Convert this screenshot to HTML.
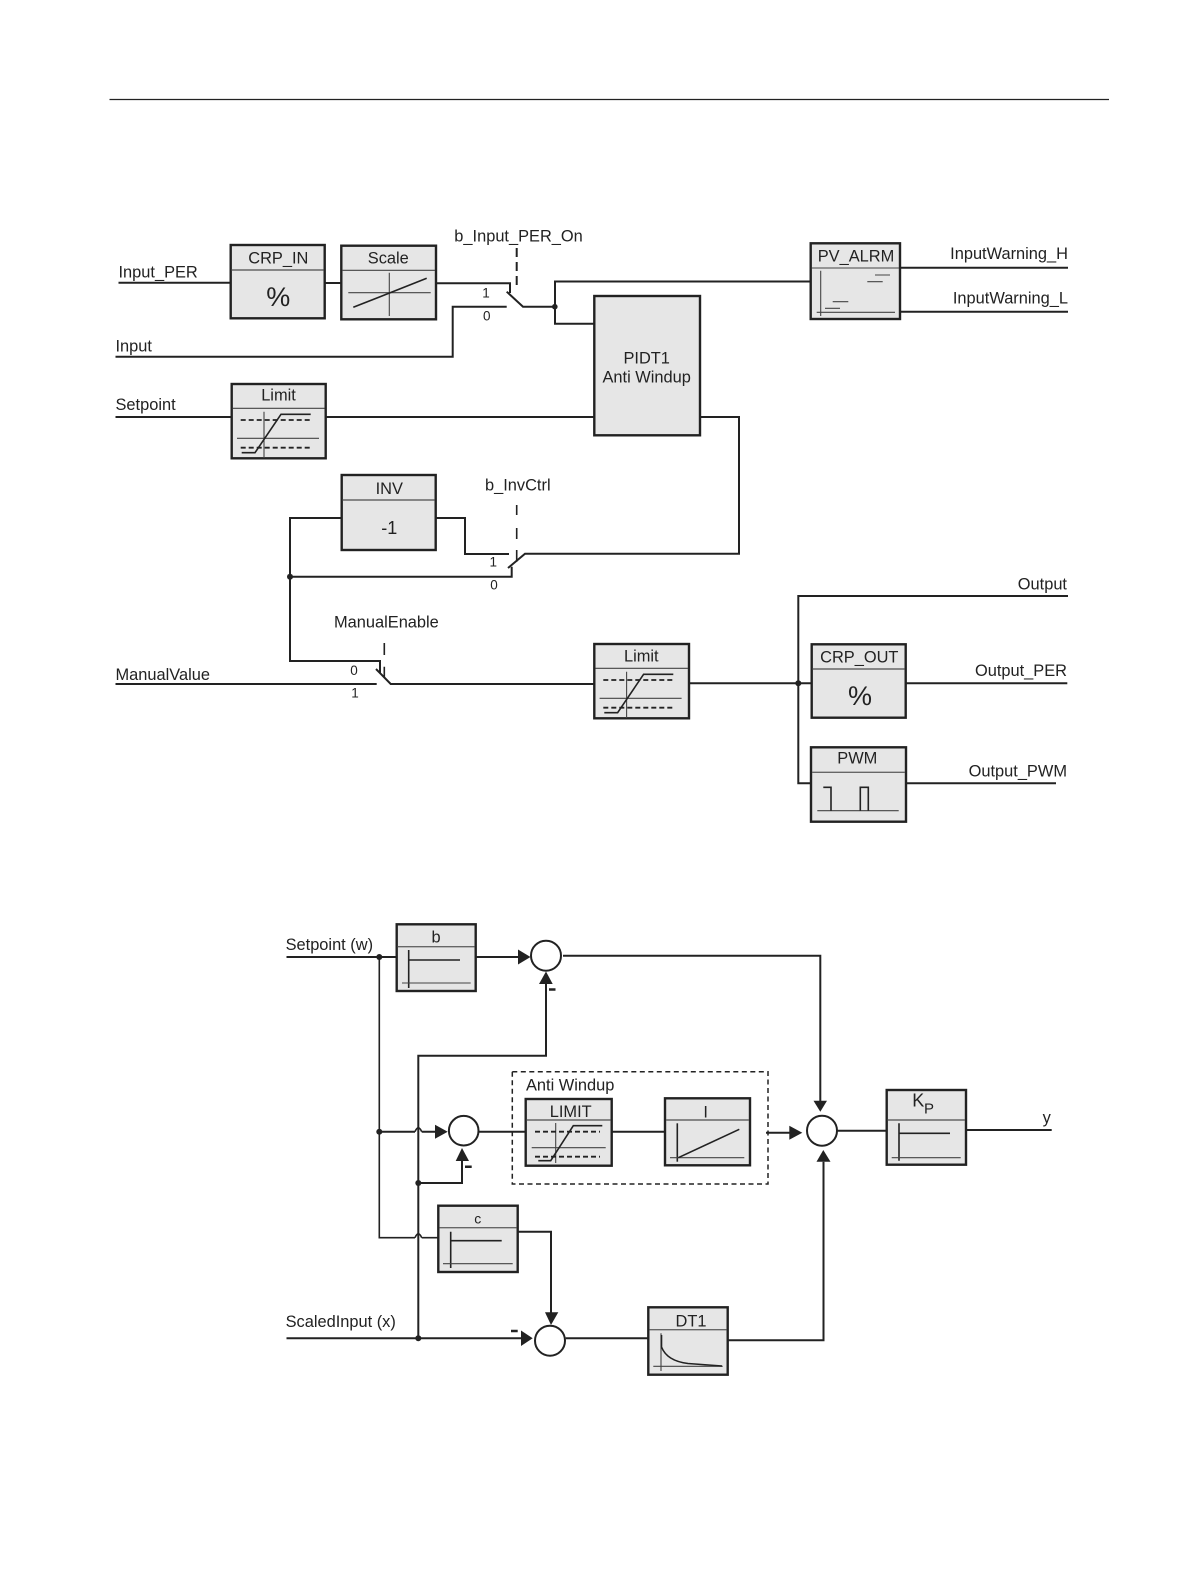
<!DOCTYPE html>
<html><head><meta charset="utf-8"><style>
html,body{margin:0;padding:0;background:#fff}
svg{display:block}
text{font-family:"Liberation Sans",sans-serif;fill:#222;font-size:16.4px}
.b{fill:#e6e6e6;stroke:#222;stroke-width:2.4}
.h{stroke:#666;stroke-width:1.4;fill:none}
.l{stroke:#222;stroke-width:2;fill:none}
.t{stroke:#444;stroke-width:1.1;fill:none}
.m{stroke:#222;stroke-width:1.6;fill:none}
.d{stroke:#222;stroke-width:1.8;fill:none;stroke-dasharray:5 3}
.c{fill:#fff;stroke:#222;stroke-width:2}
.a{fill:#222;stroke:none}
.s{font-size:13.5px;text-anchor:middle}
.mid{text-anchor:middle}
.end{text-anchor:end}
.p{font-size:27px;text-anchor:middle}
</style></head><body>
<svg width="1191" height="1587" viewBox="0 0 1191 1587" xmlns="http://www.w3.org/2000/svg">
<path d="M109.500 99.500H1109" stroke="#222" stroke-width="1.2"/>

<!-- top wires -->
<path class="l" d="M118.500 282.700H230.700M324.700 283H341.300M436 283.300H510V293M506.700 291.700L523 306.700H555V281.500H810.700M555 306.700V323.700H594.300"/>
<path class="l" d="M506.700 306.700H452.700V356.700H115.500"/>
<circle cx="554.800" cy="306.700" r="2.800" class="a"/>
<path class="l" d="M516.700 248V290" stroke-dasharray="9 5"/>
<path class="l" d="M115.500 417H231.700M325.700 417H594.300M700 417H739V553.700H525L508 568"/>
<path class="l" d="M341.700 518H290V661H380V673M435.700 518H465V554H509M290 576.700H511.700V566.700"/>
<path class="l" d="M115.500 684H376.700M376 669L390.700 684H594.300M689 683.300H811.700"/>
<path class="l" d="M1068 596H798.300V783.300H811M905.700 683.300H1067.300M906 783.300H1056M900 267.700H1068M900 311.700H1068"/>
<circle cx="290" cy="576.700" r="3" class="a"/>
<circle cx="798.300" cy="683.300" r="3" class="a"/>
<path class="m" d="M516.700 505V515M516.700 528V539M516.700 550V561.700M384.300 643V655M384.300 666.700V678"/>

<!-- CRP_IN -->
<rect class="b" x="230.700" y="245" width="94" height="73.300"/>
<path class="h" d="M231.700 270H323.700"/>
<text x="278.300" y="263.300" class="mid">CRP_IN</text>
<text x="278.300" y="306" class="p">%</text>
<!-- Scale -->
<rect class="b" x="341.300" y="245.700" width="94.700" height="73.600"/>
<path class="t" d="M342 270.300H435"/>
<text x="388.300" y="263.300" class="mid">Scale</text>
<path class="t" d="M348.300 292.700H430.700M389.300 272.700V316"/><path class="m" d="M353.300 307.300L426.700 278.300"/>
<text x="486" y="297.300" class="s">1</text>
<text x="486.700" y="320.700" class="s">0</text>
<text x="454.300" y="241.500">b_Input_PER_On</text>
<text x="118.500" y="277.500">Input_PER</text>
<text x="115.500" y="351.500">Input</text>
<text x="115.500" y="410">Setpoint</text>

<!-- Limit 1 -->
<rect class="b" x="231.700" y="384" width="94" height="74.300"/>
<path class="t" d="M232.700 408.300H324.700"/>
<text x="278.500" y="400.700" class="mid">Limit</text>
<g id="lim">
<path class="t" d="M237 438.300H319M264 411.700V458"/>
<path class="m" d="M241.700 452.700H255L281 414.300H310.700"/>
<path class="d" d="M240.700 420H312.700M240.700 447.700H312.700"/>
</g>

<!-- PIDT1 -->
<rect class="b" x="594.300" y="296" width="105.700" height="139.300"/>
<text x="646.700" y="363.300" class="mid">PIDT1</text>
<text x="646.700" y="382.700" class="mid">Anti Windup</text>

<!-- PV_ALRM -->
<rect class="b" x="810.700" y="243.300" width="89.300" height="75.700"/>
<path class="t" d="M811.700 268H899"/>
<text x="856" y="261.700" class="mid">PV_ALRM</text>
<path class="t" d="M820.700 270.700V316M816.700 312.300H895"/>
<path class="t" d="M875 275H890M867.300 281.700H882.700M832.700 301.700H848.300M825 308.300H840"/>
<text x="1068" y="259" class="end">InputWarning_H</text>
<text x="1068" y="303.300" class="end">InputWarning_L</text>

<!-- INV -->
<rect class="b" x="341.700" y="475" width="94" height="75"/>
<path class="h" d="M342.700 500H434.700"/>
<text x="389.300" y="494" class="mid">INV</text>
<text x="389.300" y="534" class="mid" style="font-size:18px">-1</text>
<text x="485" y="490.700">b_InvCtrl</text>
<text x="493.300" y="566.700" class="s">1</text>
<text x="494" y="589.300" class="s">0</text>
<text x="334" y="627.700">ManualEnable</text>
<text x="354" y="675" class="s">0</text>
<text x="355" y="697.300" class="s">1</text>
<text x="115.500" y="680">ManualValue</text>

<!-- Limit 2 -->
<rect class="b" x="594.300" y="644" width="94.700" height="74.300"/>
<path class="t" d="M595.300 668.300H688"/>
<text x="641.300" y="661.700" class="mid">Limit</text>
<g transform="translate(362.600,260)">
<path class="t" d="M237 438.300H319M264 411.700V458"/>
<path class="m" d="M241.700 452.700H255L281 414.300H310.700"/>
<path class="d" d="M240.700 420H312.700M240.700 447.700H312.700"/>
</g>

<!-- outputs -->
<text x="1067" y="589.400" class="end">Output</text>
<rect class="b" x="811.700" y="644.300" width="94" height="73.400"/>
<path class="h" d="M812.700 669H904.700"/>
<text x="859.300" y="662.300" class="mid">CRP_OUT</text>
<text x="860" y="705" class="p">%</text>
<text x="1067" y="676" class="end">Output_PER</text>
<rect class="b" x="811" y="747.300" width="95" height="74.400"/>
<path class="h" d="M812 772.300H905"/>
<text x="857.300" y="763.300" class="mid">PWM</text>
<path class="t" d="M817.300 810.700H898.700"/>
<path class="m" d="M823.300 787.300H831V810.700M860.300 810.700V787.300H868.300V810.700"/>
<text x="1067" y="776.700" class="end">Output_PWM</text>

<!-- ===== bottom diagram ===== -->
<text x="285.600" y="950">Setpoint (w)</text>
<text x="285.600" y="1327">ScaledInput (x)</text>
<text x="1046.700" y="1123" class="mid">y</text>

<path class="l" d="M286.500 957H396.700M475.700 957H520M563 955.700H820.300V1101"/>
<path class="m" d="M379.300 957V1237.700H415M421.700 1237.700H438.300M415 1237.700Q418.300 1230 421.700 1237.700"/>
<path class="l" d="M379.300 1131.700H415M421.700 1131.700H435"/>
<path class="m" d="M415 1131.700Q418.300 1124 421.700 1131.700"/>
<path class="l" d="M418.300 1338.300V1055.700H546V984"/>
<path class="l" d="M418.300 1183H462V1161"/>
<path class="l" d="M286.500 1338.300H521M565.700 1338.300H648.300M727.700 1340.300H823.500V1161.700"/>
<path class="l" d="M517.700 1231.700H551V1312.500"/>
<path class="l" d="M478.700 1131.700H525.700M611.700 1131.700H665M766 1132.700H789.500M837 1130.700H886.700M966 1130H1051.700"/>
<circle cx="379.300" cy="957" r="3" class="a"/>
<circle cx="379.300" cy="1131.700" r="3" class="a"/>
<circle cx="418.300" cy="1183" r="3" class="a"/>
<circle cx="418.300" cy="1338.300" r="3" class="a"/>

<!-- arrows -->
<polygon class="a" points="518,949.500 518,964.500 530.500,957"/>
<polygon class="a" points="539,984 552.700,984 546,971.500"/>
<polygon class="a" points="435,1124.700 435,1138.700 447.700,1131.700"/>
<polygon class="a" points="455.700,1161 469,1161 462,1148"/>
<polygon class="a" points="521,1330.500 521,1346 532.700,1338.300"/>
<polygon class="a" points="545,1312.300 558.300,1312.300 551,1325"/>
<polygon class="a" points="789.300,1125.700 789.300,1139.700 802.300,1132.700"/>
<polygon class="a" points="813.500,1100.700 827,1100.700 820.300,1111.700"/>
<polygon class="a" points="816.500,1161.700 830.500,1161.700 823.300,1150"/>

<!-- circles -->
<circle class="c" cx="546" cy="955.700" r="15"/>
<circle class="c" cx="463.700" cy="1130.700" r="14.800"/>
<circle class="c" cx="822" cy="1130.700" r="15"/>
<circle class="c" cx="550" cy="1340.700" r="15"/>

<!-- minus -->
<path d="M549 989.500H555.500M465 1166.700H471.700M511 1331H517.700" stroke="#222" stroke-width="2.500"/>

<!-- b -->
<rect class="b" x="396.700" y="924.300" width="79" height="66.700"/>
<path class="h" d="M397.700 946.700H474.700"/>
<text x="436" y="942.700" class="mid">b</text>
<path class="m" d="M408.700 950V988M408.700 960H460"/>
<path class="t" d="M402 983H470.700"/>

<!-- Anti windup -->
<rect x="512.300" y="1071.700" width="255.700" height="112.300" fill="none" stroke="#222" stroke-width="1.500" stroke-dasharray="5 3.500"/>
<text x="526" y="1090.700">Anti Windup</text>

<!-- LIMIT -->
<rect class="b" x="525.700" y="1099" width="86" height="66.700"/>
<path class="h" d="M526.700 1120H610.700"/>
<text x="570.700" y="1117" class="mid">LIMIT</text>
<path class="t" d="M531.700 1147.700H605.700M555.700 1123V1163"/>
<path class="m" d="M538.300 1160.700H550.700L573.300 1125.700H602.300"/>
<path class="d" d="M535 1131.700H600M535 1156.700H600" stroke-dasharray="4 2.500"/>

<!-- I -->
<rect class="b" x="665" y="1098.300" width="85" height="67"/>
<path class="h" d="M666 1120H749"/>
<text x="705.700" y="1117.300" class="mid">I</text>
<path class="m" d="M677.300 1123.300V1161.700"/>
<path class="t" d="M670 1157.700H744.300"/>
<path class="m" d="M678.300 1157.700L739.300 1129.300"/>

<!-- Kp -->
<rect class="b" x="886.700" y="1090" width="79.300" height="74.700"/>
<path class="h" d="M887.700 1120H965"/>
<text x="912.300" y="1106.700" style="font-size:18px">K</text><text x="924" y="1113.300" style="font-size:15px">P</text>
<path class="m" d="M899 1123.300V1160.700M899 1133.300H950"/>
<path class="t" d="M891.700 1157.700H960.700"/>

<!-- c -->
<rect class="b" x="438.300" y="1205.700" width="79.400" height="66.300"/>
<path class="h" d="M439.300 1227.700H516.700"/>
<text x="477.700" y="1223.300" class="mid" style="font-size:14px">c</text>
<path class="m" d="M450.700 1231.700V1268M450.700 1240.700H501.700"/>
<path class="t" d="M443 1263.700H512.700"/>

<!-- DT1 -->
<rect class="b" x="648.300" y="1307.300" width="79.400" height="67.400"/>
<path class="h" d="M649.300 1329.700H726.700"/>
<text x="691" y="1326.700" class="mid">DT1</text>
<path class="t" d="M661 1333.300V1371M653.300 1366.300H722.700"/>
<path class="m" d="M661.500 1335V1347Q667 1361 688 1363.500L722 1366"/>
</svg>
</body></html>
